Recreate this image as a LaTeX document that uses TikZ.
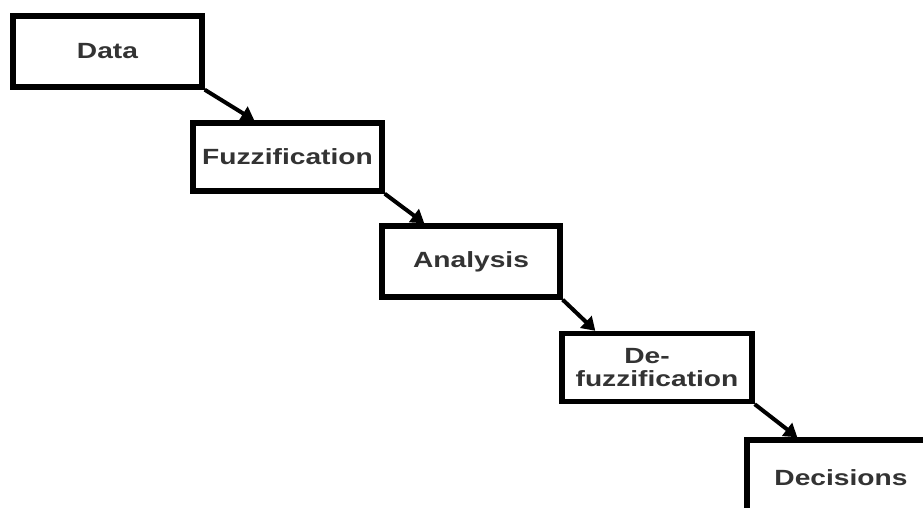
\documentclass[tikz,border=0pt]{standalone}
\usepackage{fontspec}
\newfontfamily\boxfont[FakeStretch=1.28]{Liberation Sans}
\usetikzlibrary{arrows.meta,calc}
\begin{document}
\begin{tikzpicture}[x=1pt,y=-1pt,
  stage/.style={draw=black, line width=5.4pt, fill=white, rectangle,
    inner sep=0pt, align=center, text=black!80,
    font=\boxfont\bfseries\fontsize{22}{23.5}\selectfont},
  flow/.style={line width=4pt, draw=black,
    -{Triangle[length=13pt,width=16pt]}}]
  \useasboundingbox (0,0) rectangle (923,507);
  \clip (0,0) rectangle (923,507);
  \fill[white] (0,0) rectangle (923,507);

  % processing stages, stepping down to the right
  \node[stage, minimum width=189pt, minimum height=71pt] (data)  at (107.5,51.5) {Data};
  \node[stage, minimum width=189pt, minimum height=68pt] (fuzz)  at (287.5,157)  {Fuzzification};
  \node[stage, minimum width=178pt, minimum height=71pt] (anal)  at (471,261.5)  {Analysis};
  \node[stage, minimum width=190pt, minimum height=68pt] (defuz) at (657,367.5)  {De-\hspace*{20pt}\\fuzzification};
  \node[stage, minimum width=188pt, minimum height=76pt] (dec)   at (841,478)    {Decisions};

  % arrow heads land on the top edge of the next stage
  \coordinate (inF) at ($(fuzz.north west)+(64,0)$);
  \coordinate (inA) at ($(anal.north west)+(45,0)$);
  \coordinate (inD) at ($(defuz.north west)+(36,0)$);
  \coordinate (inX) at ($(dec.north west)+(53,0)$);

  \draw[flow] (data.south east)  -- (inF);
  \draw[flow] (fuzz.south east)  -- (inA);
  \draw[flow] (anal.south east)  -- (inD);
  \draw[flow] (defuz.south east) -- (inX);
\end{tikzpicture}
\end{document}
